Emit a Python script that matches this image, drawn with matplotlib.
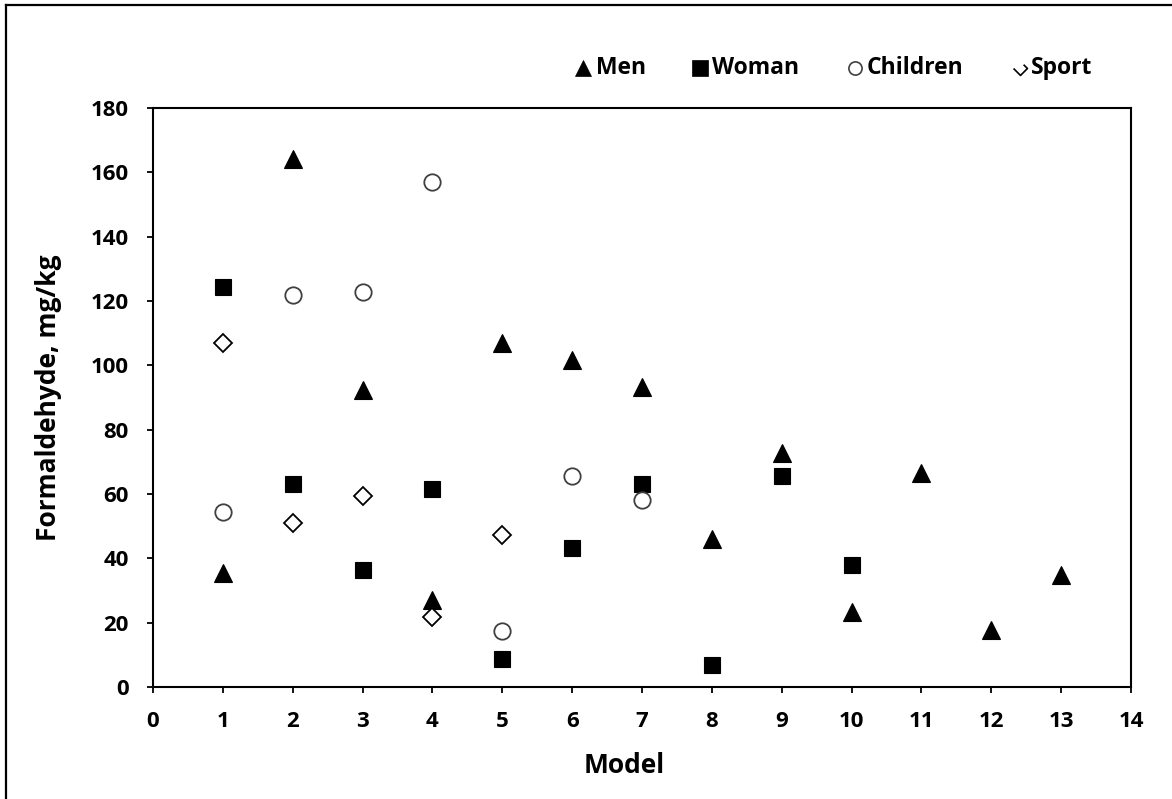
import matplotlib
matplotlib.use("Agg")
import matplotlib.pyplot as plt
from matplotlib.lines import Line2D
from matplotlib.path import Path

plt.rcParams['font.family'] = ['Open Sans', 'DejaVu Sans']
plt.rcParams['font.weight'] = 'bold'

# data
men_x = [1, 2, 3, 4, 5, 6, 7, 8, 9, 10, 11, 12, 13]
men_y = [35.5, 164, 92.3, 27, 106.8, 101.6, 93.2, 45.9, 72.8, 23.4, 66.5, 17.7, 34.8]
woman_x = [1, 2, 3, 4, 5, 6, 7, 8, 9, 10]
woman_y = [124.4, 63.1, 36.4, 61.4, 8.7, 43.3, 63.0, 6.8, 65.7, 37.9]
children_x = [1, 2, 3, 4, 5, 6, 7]
children_y = [54.5, 122, 122.7, 157, 17.3, 65.7, 58.1]
sport_x = [1, 2, 3, 4, 5]
sport_y = [107, 51.1, 59.5, 21.7, 47.1]

labels = ["Men", "Woman", "Children", "Sport"]

fig = plt.figure(figsize=(11.72, 7.99), dpi=100)
ax = fig.add_axes([153 / 1172, 112 / 799, (1131 - 153) / 1172, (687 - 108) / 799])

ax.plot(men_x, men_y, ls="none", marker="^", ms=12.4, mfc="black", mec="black", mew=0.8)
ax.plot(woman_x, woman_y, ls="none", marker="s", ms=11.8, mfc="black", mec="black", mew=0.8)
ax.plot(children_x, children_y, ls="none", marker="o", ms=11.8, mfc="white", mec="#404040", mew=1.3)
ax.plot(sport_x, sport_y, ls="none", marker="D", ms=9.6, mfc="white", mec="black", mew=1.3)

ax.set_xlim(0, 14)
ax.set_ylim(0, 180)
ax.set_xticks(range(0, 15))
ax.set_yticks(range(0, 181, 20))
for s in ax.spines.values():
    s.set_linewidth(1.5)
ax.tick_params(direction="out", length=4.5, width=1.3, labelsize=16, pad=13)
for t in ax.get_xticklabels() + ax.get_yticklabels():
    t.set_fontweight("bold")

ax.set_xlabel("Model", fontsize=19, fontweight="bold")
ax.set_ylabel("Formaldehyde, mg/kg", fontsize=19, fontweight="bold")
ax.xaxis.set_label_coords((624 - 153) / (1131 - 153), -(752 - 687) / (687 - 108))
ax.yaxis.set_label_coords(-(153 - 62) / (1131 - 153), 0.5)

# legend drawn by hand, top right above the plot
clipped_diamond = Path([(-1, 0), (0, -1), (1, 0), (0.45, 0.55)])
leg_markers = [dict(marker="^", ms=11.5, mfc="black", mec="black", mew=0.5),
               dict(marker="s", ms=11.5, mfc="black", mec="black", mew=0.5),
               dict(marker="o", ms=9.5, mfc="white", mec="#404040", mew=1.2),
               dict(marker=clipped_diamond, ms=10, mfc="none", mec="black", mew=1.2)]
leg_mx = [583, 700, 855, 1020]
leg_tx = [596, 712, 867, 1031]
leg_y = 1 - 68 / 799
for lab, mk, mx, tx in zip(labels, leg_markers, leg_mx, leg_tx):
    fig.add_artist(Line2D([mx / 1172], [leg_y], transform=fig.transFigure, ls="none", **mk))
    fig.text(tx / 1172, leg_y, lab, fontsize=16.5, fontweight="bold", va="center", ha="left")

# outer chart frame (only top and left edges fall inside the image)
fig.add_artist(Line2D([6 / 1172, 6 / 1172], [0, 1 - 5 / 799], transform=fig.transFigure, color="black", lw=1.6))
fig.add_artist(Line2D([6 / 1172, 1], [1 - 5 / 799, 1 - 5 / 799], transform=fig.transFigure, color="black", lw=1.6))

fig.savefig("out.png", dpi=100)
